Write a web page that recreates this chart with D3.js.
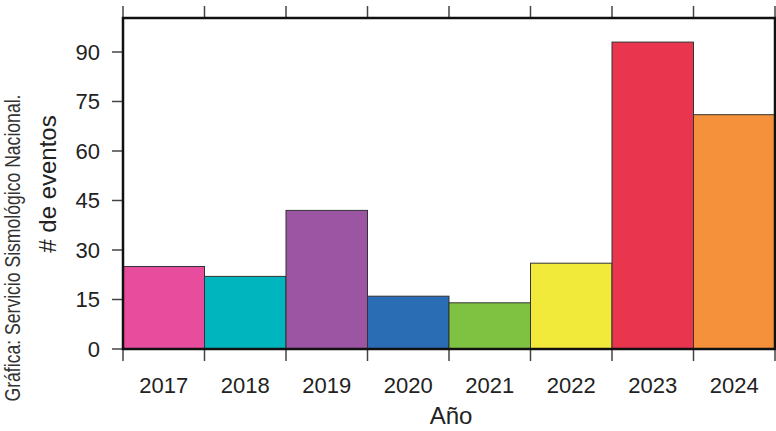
<!DOCTYPE html>
<html lang="en">
<head>
<meta charset="UTF-8">
<title>Eventos por año</title>
<script src="https://d3js.org/d3.v7.min.js"></script>
<style>
    body{ margin: 0; background: white; }
    svg{ display: block; }
</style>
</head>
<body>
<svg></svg>
<script>
    const years = ['2017','2018','2019','2020','2021','2022','2023','2024'];
    const events = [25, 22, 42, 16, 14, 26, 93, 71];
    const colors = ['#e84c9c','#00b5bd','#9c55a3','#2a6db5','#7fc241','#f2ea3a','#ea354f','#f4913a'];
    const yTicks = [0, 15, 30, 45, 60, 75, 90];

    const width = 776, height = 431;
    const m = {left: 123, right: 1, top: 18, bottom: 82};
    const font = 'Liberation Sans, Arial, sans-serif';

    const svg = d3.select('svg').attr('width', width).attr('height', height);

    const x = d3.scaleBand().domain(years).range([m.left, width - m.right]).padding(0);
    const y = d3.scaleLinear().domain([0, 100.3]).range([height - m.bottom, m.top]);

    /* bars */
    svg.selectAll('rect.bar')
        .data(years)
        .enter().append('rect')
        .attr('class', 'bar')
        .attr('x', d => x(d))
        .attr('width', x.bandwidth())
        .attr('y', (d, i) => y(events[i]))
        .attr('height', (d, i) => y(0) - y(events[i]))
        .attr('fill', (d, i) => colors[i])
        .attr('stroke', '#333')
        .attr('stroke-width', 1);

    /* tick marks at bin edges, top and bottom */
    const edges = years.map(d => x(d)).concat([x.range()[1]]);
    const tickCol = '#444';
    svg.selectAll('line.tb')
        .data(edges)
        .enter().append('line')
        .attr('x1', d => d).attr('x2', d => d)
        .attr('y1', y(0)).attr('y2', y(0) + 12)
        .attr('stroke', tickCol).attr('stroke-width', 1.5);
    svg.selectAll('line.tt')
        .data(edges)
        .enter().append('line')
        .attr('x1', d => d).attr('x2', d => d)
        .attr('y1', m.top).attr('y2', m.top - 12)
        .attr('stroke', tickCol).attr('stroke-width', 1.5);

    /* y axis ticks and labels */
    const yAxis = svg.append('g');
    yAxis.selectAll('line')
        .data(yTicks)
        .enter().append('line')
        .attr('x1', m.left - 11).attr('x2', m.left)
        .attr('y1', d => y(d)).attr('y2', d => y(d))
        .attr('stroke', tickCol).attr('stroke-width', 1.5);
    yAxis.selectAll('text')
        .data(yTicks)
        .enter().append('text')
        .attr('x', m.left - 23)
        .attr('y', d => y(d))
        .attr('dy', '0.36em')
        .attr('text-anchor', 'end')
        .style('font-family', font)
        .style('font-size', '22px')
        .attr('fill', '#222')
        .text(d => d);

    /* x labels */
    svg.selectAll('text.xl')
        .data(years)
        .enter().append('text')
        .attr('x', d => x(d) + x.bandwidth() / 2)
        .attr('y', 393)
        .attr('text-anchor', 'middle')
        .style('font-family', font)
        .style('font-size', '22px')
        .attr('fill', '#222')
        .text(d => d);

    /* frame */
    svg.append('rect')
        .attr('x', m.left).attr('y', m.top)
        .attr('width', width - m.right - m.left)
        .attr('height', y(0) - m.top)
        .attr('fill', 'none')
        .attr('stroke', '#111')
        .attr('stroke-width', 2.5);

    /* axis titles */
    svg.append('text')
        .attr('x', 451).attr('y', 424)
        .attr('text-anchor', 'middle')
        .style('font-family', font)
        .style('font-size', '24px')
        .attr('fill', '#222')
        .text('Año');

    svg.append('text')
        .attr('transform', 'translate(56,184) rotate(-90)')
        .attr('text-anchor', 'middle')
        .style('font-family', font)
        .style('font-size', '24px')
        .attr('fill', '#222')
        .text('# de eventos');

    /* source note, condensed */
    svg.append('text')
        .attr('transform', 'translate(20,248) rotate(-90) scale(0.8,1)')
        .attr('text-anchor', 'middle')
        .style('font-family', font)
        .style('font-size', '22px')
        .attr('fill', '#333')
        .text('Gráfica: Servicio Sismológico Nacional.');
</script>
</body>
</html>
